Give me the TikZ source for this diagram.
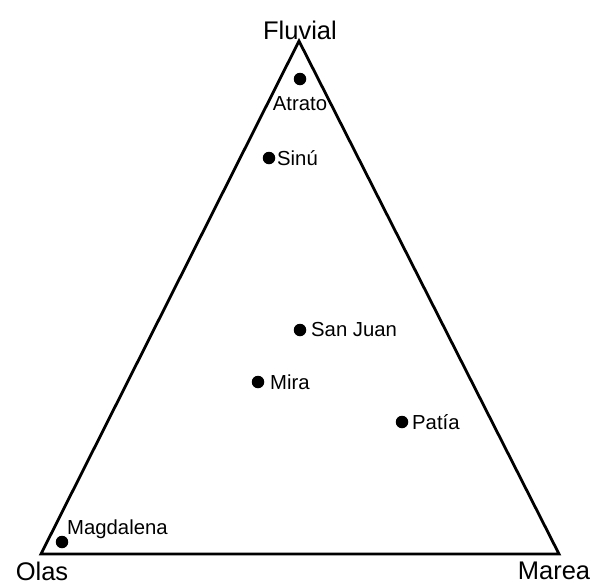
\documentclass[tikz,border=0pt]{standalone}
\usepackage{fontspec}
\setmainfont{Liberation Sans}
\begin{document}
\begin{tikzpicture}[x=1pt,y=-1pt,
  cornertext/.style={font=\fontsize{25.5}{29}\selectfont, inner sep=0pt},
  riverdot/.style={circle, fill=black, minimum size=12.5pt, inner sep=0pt},
  rivertext/.style={font=\fontsize{20.3}{23}\selectfont, inner sep=0pt},
  triline/.style={line width=2.8pt, line join=miter}]
\useasboundingbox (0,0) rectangle (592,584);
% triangle vertices
\coordinate (F) at (299,41);
\coordinate (O) at (41,554);
\coordinate (M) at (559,554);
\draw[triline] (F) -- (M) -- (O) -- cycle;
% vertex labels
\node[cornertext] (fluv) at (300,30) {Fluvial};
\node[cornertext] (olas) at (42,571) {Olas};
\node[cornertext] (marea) at (554,571) {Marea};
% rivers
\node[riverdot] (atr) at (300,79) {};
\node[rivertext] (atrL) at (300,104) {Atrato};
\node[riverdot] (sin) at (269,158) {};
\node[rivertext, anchor=west] (sinL) at (277,158) {Sinú};
\node[riverdot] (sj) at (300,330) {};
\node[rivertext, anchor=west] (sjL) at (311,330) {San Juan};
\node[riverdot] (mir) at (258,382) {};
\node[rivertext, anchor=west] (mirL) at (270,382) {Mira};
\node[riverdot] (pat) at (402,422) {};
\node[rivertext, anchor=west] (patL) at (412,422) {Patía};
\node[riverdot] (mag) at (62,542) {};
\node[rivertext, anchor=west] (magL) at (67,529) {Magdalena};
\end{tikzpicture}
\end{document}
